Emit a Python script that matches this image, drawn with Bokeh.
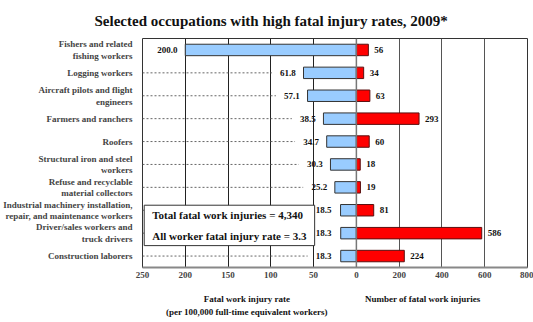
from bokeh.plotting import figure
from bokeh.models import (Range1d, FactorRange, ColumnDataSource, FixedTicker, Grid,
                          Span, Label)
from bokeh.layouts import column
from bokeh.embed import file_html
from bokeh.resources import INLINE
from bokeh.core.properties import value

# ---- data ----
occupations = [
    "Fishers and related\nfishing workers",
    "Logging workers",
    "Aircraft pilots and flight\nengineers",
    "Farmers and ranchers",
    "Roofers",
    "Structural iron and steel\nworkers",
    "Refuse and recyclable\nmaterial collectors",
    "Industrial machinery installation,\nrepair, and maintenance workers",
    "Driver/sales workers and\ntruck drivers",
    "Construction laborers",
]
fatal_rate = [200.0, 61.8, 57.1, 38.5, 34.7, 30.3, 25.2, 18.5, 18.3, 18.3]
fatal_count = [56, 34, 63, 293, 60, 18, 19, 81, 586, 224]
rate_ticks = [250, 200, 150, 100, 50, 0]
count_ticks = [200, 400, 600, 800]
title_text = "Selected occupations with high fatal injury rates, 2009*"
box_text = "Total fatal work injuries = 4,340\n\nAll worker fatal injury rate = 3.3"
rate_axis_title = ["Fatal work injury rate", "(per 100,000 full-time equivalent workers)"]
count_axis_title = "Number of fatal work injuries"

FONT = "Liberation Serif"
RATE_MAX = 250
RATE_RIGHT = 200          # width of the right half, in rate units
COUNT_MAX = 800
k = COUNT_MAX / RATE_RIGHT
W = 533
BL, BR = 141, 6           # frame borders

label_x = [max(r + 9, 29) for r in fatal_rate]
dash_end = [lx + 28 for lx in label_x]
src = ColumnDataSource(dict(occ=occupations, rate=fatal_rate, count=fatal_count,
                            lx=label_x,
                            rl=[f"{r:.1f}" for r in fatal_rate],
                            cl=[str(c) for c in fatal_count]))
keep = [i for i, r in enumerate(fatal_rate) if r < 100]
dash_src = ColumnDataSource(dict(occ=[occupations[i] for i in keep],
                                 dx=[dash_end[i] for i in keep],
                                 x0=[RATE_MAX] * len(keep)))

rate_range = Range1d(RATE_MAX, -RATE_RIGHT)
count_range = Range1d(-RATE_MAX * k, COUNT_MAX)

p = figure(width=W, height=290, output_backend="svg", toolbar_location=None,
           x_range=rate_range,
           y_range=FactorRange(factors=list(reversed(occupations)), range_padding=0),
           min_border_left=BL, min_border_right=BR, min_border_top=0, min_border_bottom=23)
p.extra_x_ranges = {"count": count_range}

p.title.text = title_text
p.title.align = "left"
p.title.offset = -48
p.title.standoff = 20
p.title.text_font = FONT
p.title.text_font_size = "15px"
p.title.text_font_style = "bold"
p.title.text_color = "#111111"

p.outline_line_color = "#333333"
p.background_fill_color = "white"
p.border_fill_color = "white"

p.xgrid.ticker = FixedTicker(ticks=[r for r in rate_ticks if 0 < r < RATE_MAX])
p.xgrid.grid_line_color = "#222222"
p.ygrid.grid_line_color = None
p.add_layout(Grid(dimension=0, ticker=FixedTicker(ticks=count_ticks), x_range_name="count",
                  grid_line_color="#555555"))

xa = p.xaxis[0]
xa.ticker = FixedTicker(ticks=rate_ticks + [-c / k for c in count_ticks])
xa.major_label_overrides = {**{-c / k: str(c) for c in count_ticks},
                            **{r: str(r) for r in rate_ticks}}
xa.axis_line_color = "#888888"
xa.axis_line_width = 2
xa.major_tick_line_color = None
xa.minor_tick_line_color = None
xa.major_tick_out = 0
xa.minor_tick_out = 0
xa.major_label_text_font = FONT
xa.major_label_text_font_style = "bold"
xa.major_label_text_font_size = "9px"
xa.major_label_standoff = 4

ya = p.yaxis[0]
ya.axis_line_color = None
ya.major_tick_line_color = None
ya.minor_tick_line_color = None
ya.major_tick_out = 0
ya.minor_tick_out = 0
ya.major_label_text_font = FONT
ya.major_label_text_font_style = "bold"
ya.major_label_text_font_size = "9px"
ya.major_label_standoff = 10
ya.major_label_text_line_height = 1.15

p.segment(x0="x0", x1="dx", y0="occ", y1="occ", source=dash_src,
          line_color="#666666", line_dash="2 2", line_width=1)

p.hbar(y="occ", left=0, right="rate", height=0.5, source=src,
       fill_color="#99CCFF", line_color="#333333", line_width=1)
p.hbar(y="occ", left=0, right="count", height=0.5, source=src, x_range_name="count",
       fill_color="#FF0000", line_color="#5a1010", line_width=1)
p.add_layout(Span(location=0, dimension="height", line_color="#777777", line_width=1.5))

p.text(x="lx", y="occ", text="rl", source=src, text_align="right", text_baseline="middle",
       text_font=value(FONT), text_font_style="bold", text_font_size="9px", text_color="#111111")
p.text(x="count", y="occ", text="cl", source=src, x_range_name="count", x_offset=6,
       text_align="left", text_baseline="middle",
       text_font=value(FONT), text_font_style="bold", text_font_size="9px", text_color="#111111")

p.add_layout(Label(x=248, y=2.72, text=box_text, anchor="top_left",
                   text_font=FONT, text_font_style="bold", text_font_size="11px",
                   text_line_height=0.85, padding=(8, 4),
                   background_fill_color="white", border_line_color="#333333",
                   text_color="#111111"))

# strip below with the two axis titles
q = figure(width=W, height=32, output_backend="svg", toolbar_location=None,
           x_axis_type=None, y_axis_type=None, x_range=rate_range,
           y_range=Range1d(0, 32), min_border_left=BL, min_border_right=BR,
           min_border_top=0, min_border_bottom=0)
q.extra_x_ranges = {"count": count_range}
q.outline_line_color = None
q.xgrid.grid_line_color = None
q.ygrid.grid_line_color = None
q.text(x=[128, 128], y=[24, 11], text=rate_axis_title, text_align="center",
       text_baseline="middle", text_font=value(FONT), text_font_style="bold",
       text_font_size="9px", text_color="#111111")
q.text(x=[310], y=[24], text=[count_axis_title], x_range_name="count", text_align="center",
       text_baseline="middle", text_font=value(FONT), text_font_style="bold",
       text_font_size="9px", text_color="#111111")

layout = column(p, q, spacing=0)
open("out.html", "w").write(file_html(layout, INLINE))
